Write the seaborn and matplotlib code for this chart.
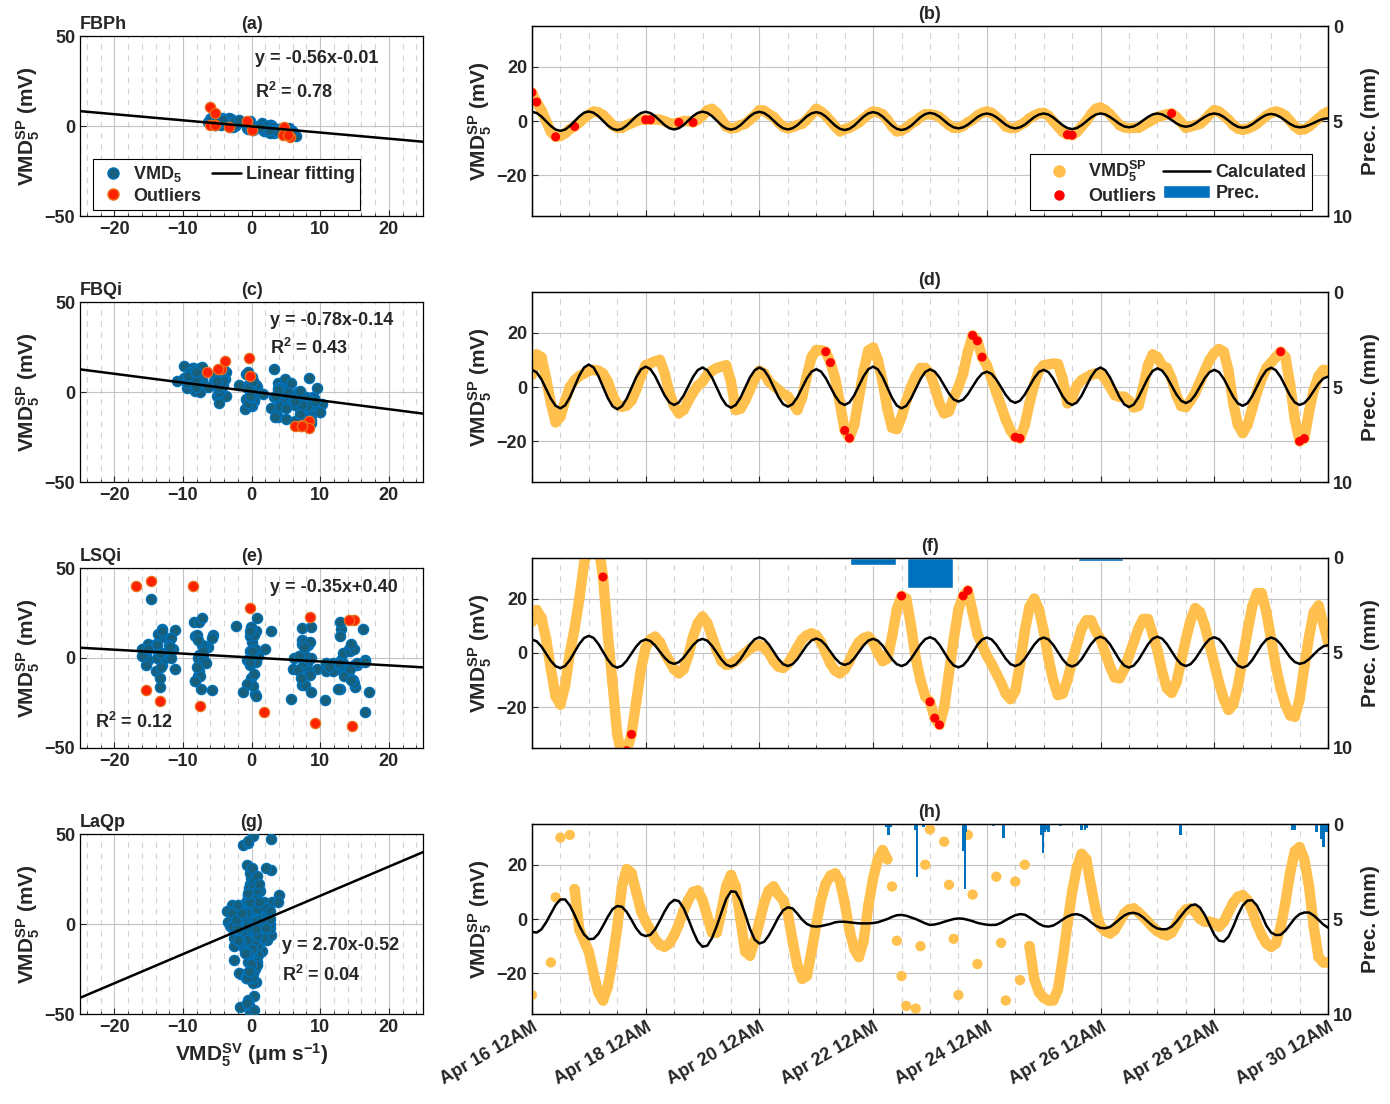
import numpy as np
import pandas as pd
import matplotlib
matplotlib.use('Agg')
import matplotlib.pyplot as plt
import matplotlib.dates as mdates
from matplotlib.lines import Line2D
from matplotlib.patches import Patch
from matplotlib.ticker import MultipleLocator
import seaborn as sns

# ---- data (2-hourly, Apr 16 00:00 -> Apr 30 00:00) ----
times = pd.date_range('2021-04-16 00:00', '2021-04-30 00:00', freq='2h')

sites = ['FBPh', 'FBQi', 'LSQi', 'LaQp']
fit_slope = [-0.56, -0.78, -0.35, 2.70]
fit_icept = [-0.01, -0.14, 0.40, -0.52]
fit_r2 = [0.78, 0.43, 0.12, 0.04]
# drawn fitting line, value at x=-25 and x=25
fit_line_ends = [(8.3, -8.7), (12.6, -12.0), (5.7, -5.2), (-41.0, 40.0)]

# VMD5 SV (um/s), one row per day
sv_fbph = [
    -6.1, -5.3, -3.0, 0.2, 3.3, 5.6, 6.4, 5.6, 3.2, 0.1, -3.1, -5.5,
    -6.3, -5.5, -3.3, -0.2, 2.9, 5.1, 5.9, 5.1, 2.9, -0.1, -3.1, -5.3,
    -6.1, -5.3, -3.2, -0.3, 2.6, 4.7, 5.5, 4.7, 2.6, -0.4, -3.3, -5.4,
    -6.2, -5.4, -3.3, -0.3, 2.7, 4.8, 5.6, 4.8, 2.7, -0.3, -3.2, -5.3,
    -6.1, -5.3, -3.2, -0.3, 2.6, 4.7, 5.5, 4.7, 2.7, -0.2, -3.1, -5.1,
    -5.9, -5.1, -3.0, 0.0, 3.0, 5.1, 5.9, 5.1, 3.0, 0.0, -3.0, -5.1,
    -5.9, -5.1, -3.0, 0.0, 3.0, 5.1, 5.9, 5.1, 3.1, 0.3, -2.6, -4.6,
    -5.4, -4.7, -2.9, -0.3, 2.3, 4.1, 4.8, 4.1, 2.4, -0.1, -2.6, -4.3,
    -5.0, -4.3, -2.6, -0.1, 2.4, 4.1, 4.8, 4.1, 2.4, -0.1, -2.6, -4.3,
    -5.0, -4.3, -2.4, 0.2, 2.7, 4.6, 5.3, 4.6, 2.7, 0.2, -2.4, -4.3,
    -5.0, -4.4, -2.7, -0.5, 1.8, 3.5, 4.1, 3.5, 1.8, -0.5, -2.7, -4.4,
    -5.0, -4.4, -2.8, -0.7, 1.5, 3.1, 3.7, 3.1, 1.5, -0.7, -2.8, -4.4,
    -5.0, -4.4, -2.7, -0.3, 2.1, 3.8, 4.4, 3.8, 2.1, -0.2, -2.4, -4.1,
    -4.7, -4.1, -2.5, -0.3, 1.9, 3.5, 4.1, 3.7, 2.6, 1.2, -0.3, -1.4,
    -1.8]
sv_fbqi = [
    -8.3, -7.1, -3.8, 0.8, 5.4, 8.7, 9.9, 8.5, 4.7, -0.5, -5.6, -9.4,
    -10.8, -9.4, -5.5, -0.3, 5.0, 8.9, 10.3, 8.9, 5.3, 0.3, -4.8, -8.5,
    -9.8, -8.6, -5.3, -0.8, 3.8, 7.1, 8.3, 7.1, 3.9, -0.6, -5.0, -8.2,
    -9.4, -8.1, -4.7, 0.1, 4.9, 8.3, 9.6, 8.3, 4.9, 0.1, -4.7, -8.1,
    -9.4, -8.2, -4.8, -0.2, 4.5, 7.9, 9.1, 7.9, 4.7, 0.3, -4.2, -7.4,
    -8.6, -7.5, -4.4, -0.2, 4.1, 7.2, 8.3, 7.1, 3.8, -0.8, -5.3, -8.6,
    -9.8, -8.5, -4.9, 0.1, 5.0, 8.6, 9.9, 8.7, 5.3, 0.7, -3.9, -7.3,
    -8.5, -7.5, -4.7, -0.9, 2.9, 5.7, 6.7, 5.8, 3.2, -0.4, -3.9, -6.5,
    -7.4, -6.4, -3.7, -0.1, 3.6, 6.3, 7.3, 6.3, 3.4, -0.5, -4.4, -7.3,
    -8.3, -7.2, -4.2, 0.0, 4.2, 7.2, 8.3, 7.1, 3.9, -0.6, -5.0, -8.2,
    -9.4, -8.1, -4.7, -0.1, 4.6, 8.0, 9.3, 8.1, 4.7, 0.2, -4.4, -7.8,
    -9.0, -7.9, -4.9, -0.8, 3.3, 6.3, 7.4, 6.3, 3.5, -0.5, -4.4, -7.2,
    -8.3, -7.2, -4.1, 0.2, 4.5, 7.6, 8.7, 7.5, 4.2, -0.3, -4.8, -8.1,
    -9.3, -8.1, -4.9, -0.5, 3.9, 7.1, 8.3, 7.4, 5.0, 1.6, -1.8, -4.2,
    -5.1]
sv_lsqi = [
    -13.1, -11.1, -5.6, 2.0, 9.6, 15.1, 17.1, 14.8, 8.6, 0.1, -8.4, -14.6,
    -16.9, -14.7, -8.5, -0.2, 8.2, 14.4, 16.6, 14.6, 9.2, 1.8, -5.7, -11.1,
    -13.1, -11.4, -6.7, -0.3, 6.2, 10.9, 12.6, 10.8, 6.0, -0.6, -7.1, -11.9,
    -13.7, -11.8, -6.4, 0.9, 8.1, 13.5, 15.4, 13.3, 7.7, 0.0, -7.7, -13.3,
    -15.4, -13.4, -7.8, -0.3, 7.3, 12.9, 14.9, 13.0, 7.7, 0.5, -6.8, -12.1,
    -14.0, -12.1, -7.1, -0.2, 6.8, 11.8, 13.7, 11.9, 6.9, 0.0, -6.9, -11.9,
    -13.7, -11.8, -6.6, 0.6, 7.8, 13.0, 14.9, 12.9, 7.3, -0.3, -7.8, -13.4,
    -15.4, -13.3, -7.5, 0.5, 8.4, 14.2, 16.3, 14.2, 8.5, 0.6, -7.3, -13.0,
    -15.1, -13.1, -7.6, -0.1, 7.4, 12.9, 14.9, 12.9, 7.4, -0.1, -7.6, -13.1,
    -15.1, -13.1, -7.5, 0.2, 7.8, 13.4, 15.4, 13.3, 7.6, -0.3, -8.2, -13.9,
    -16.0, -13.8, -7.9, 0.3, 8.5, 14.4, 16.6, 14.4, 8.5, 0.3, -7.9, -13.8,
    -16.0, -13.9, -8.3, -0.6, 7.2, 12.8, 14.9, 12.9, 7.3, -0.3, -7.8, -13.4,
    -15.4, -13.3, -7.4, 0.6, 8.6, 14.5, 16.6, 14.5, 8.7, 0.8, -7.2, -13.0,
    -15.1, -13.2, -8.2, -1.3, 5.7, 10.7, 12.6, 11.3, 7.7, 2.8, -2.2, -5.8,
    -7.1]
sv_laqp = [
    -1.55, -1.66, -1.21, -0.25, 0.93, 2.12, 2.86, 2.86, 2.04, 0.75, -0.73, -1.92,
    -2.55, -2.51, -1.84, -0.73, 0.49, 1.53, 1.97, 1.86, 1.16, 0.08, -1.07, -1.88,
    -2.14, -1.96, -1.21, -0.03, 1.23, 2.27, 2.79, 2.64, 1.67, 0.19, -1.47, -2.88,
    -3.59, -3.44, -2.40, -0.77, 1.12, 2.93, 3.97, 3.90, 2.71, 0.86, -1.14, -2.62,
    -3.14, -2.92, -2.03, -0.84, 0.41, 1.38, 1.79, 1.64, 0.93, 0.12, -0.47, -0.77,
    -0.84, -0.77, -0.62, -0.47, -0.25, -0.18, -0.18, -0.25, -0.33, -0.40, -0.40, -0.40,
    -0.36, -0.25, -0.03, 0.19, 0.49, 0.71, 0.75, 0.64, 0.41, 0.19, -0.10, -0.40,
    -0.62, -0.55, -0.40, -0.18, 0.01, 0.19, 0.27, 0.23, 0.08, -0.10, -0.33, -0.47,
    -0.59, -0.62, -0.59, -0.33, 0.04, 0.41, 0.71, 0.86, 0.79, 0.41, -0.03, -0.47,
    -0.77, -0.84, -0.70, -0.33, 0.12, 0.53, 0.79, 0.86, 0.67, 0.27, -0.25, -0.73,
    -1.03, -1.07, -0.88, -0.40, 0.16, 0.67, 0.97, 1.04, 0.86, 0.41, -0.18, -0.73,
    -1.10, -1.21, -1.18, -0.84, -0.18, 0.64, 1.45, 2.04, 2.19, 1.75, 0.75, -0.62,
    -1.96, -2.77, -2.88, -2.21, -0.84, 0.75, 2.04, 2.71, 2.75, 2.04, 0.75, -0.73,
    -1.66, -1.99, -1.96, -1.40, -0.55, 0.30, 0.86, 1.08, 1.08, 0.67, 0.08, -0.55,
    -0.99]

# VMD5 SP (mV), one row per day
sp_fbph = [
    10.5, 7.0, 4.0, 0.0, -4.0, -5.8, -5.5, -4.5, -3.0, -2.0, -0.5, 1.0,
    2.5, 3.5, 3.2, 2.2, 0.5, -1.5, -2.5, -2.5, -1.5, -0.8, 0.0, 0.5,
    0.5, 0.5, 0.6, 0.5, 0.0, -0.8, -1.0, -0.5, 0.0, 0.0, -0.5, 0.5,
    2.0, 4.0, 4.5, 3.0, 0.5, -2.0, -2.7, -2.5, -1.5, -1.0, 0.5, 2.0,
    4.0, 3.8, 2.5, 1.5, -0.5, -2.0, -2.7, -2.2, -1.5, -1.0, 0.5, 2.5,
    4.5, 3.5, 2.0, 0.0, -2.0, -3.8, -3.0, -2.5, -1.5, -0.5, 1.0, 2.5,
    3.5, 3.2, 2.5, 0.5, -2.0, -3.8, -3.5, -2.5, -1.0, 0.0, 1.5, 2.5,
    2.5, 2.2, 1.5, 0.0, -1.5, -2.5, -2.5, -1.8, -0.5, 0.5, 2.0, 3.0,
    3.5, 3.0, 1.5, 0.0, -2.0, -2.6, -2.5, -1.5, -0.5, 1.0, 2.0, 2.8,
    3.0, 2.0, 0.0, -2.0, -4.0, -5.0, -5.2, -4.0, -2.0, 0.0, 2.5, 4.5,
    5.0, 4.0, 2.5, 0.5, -1.5, -2.3, -2.6, -2.5, -2.5, -1.5, -0.5, 0.5,
    1.5, 2.0, 2.5, 2.8, 1.5, -0.5, -2.5, -2.0, -1.5, -1.0, 0.5, 2.5,
    4.0, 3.5, 2.0, 0.5, -1.5, -2.8, -3.2, -2.8, -2.0, -1.0, 0.5, 2.0,
    3.0, 3.5, 3.0, 2.0, 0.0, -2.0, -3.2, -3.0, -2.0, -0.5, 1.0, 2.5,
    3.4]
sp_fbqi = [
    4.5, 12.0, 11.0, 3.0, -6.0, -13.0, -11.0, -5.0, 0.0, 2.5, 4.0, 5.0,
    6.0, 6.3, 6.0, 5.0, 2.0, -3.0, -6.5, -7.3, -6.8, -5.0, -1.0, 4.0,
    8.0, 8.7, 9.5, 10.0, 5.0, -2.0, -7.0, -9.7, -8.5, -5.0, -2.0, 0.5,
    2.0, 4.5, 6.0, 7.0, 7.5, 8.0, 2.0, -8.5, -8.0, -5.0, -1.0, 3.0,
    6.0, 5.0, 2.0, 0.5, -1.0, -2.5, -3.5, -6.0, -8.5, -4.0, 4.0, 11.0,
    13.6, 13.5, 13.0, 9.0, 3.0, -6.0, -16.0, -18.8, -14.0, -4.0, 6.0, 13.5,
    14.5, 10.0, 2.0, -8.0, -15.0, -15.5, -11.0, -5.0, 0.0, 4.0, 7.0, 7.0,
    5.0, 0.0, -6.0, -9.7, -9.0, -4.0, 0.0, 5.0, 13.0, 19.0, 17.0, 11.0,
    8.0, 3.0, -2.0, -7.0, -12.0, -16.0, -18.5, -18.9, -14.0, -6.0, 1.0, 6.0,
    8.0, 8.3, 8.6, 8.5, 3.0, -6.0, -4.0, 0.5, 2.5, 3.5, 4.5, 5.0,
    5.0, 3.0, 0.0, -3.0, -3.6, -3.6, -5.0, -7.5, -7.0, 0.0, 8.0, 12.0,
    11.0, 8.0, 7.0, 3.0, -3.0, -7.0, -7.4, -5.0, -2.0, 2.0, 6.0, 10.0,
    12.5, 14.0, 13.0, 6.0, -6.0, -14.0, -17.0, -14.0, -8.0, -2.0, 3.0, 7.0,
    9.0, 11.0, 13.0, 11.0, 1.0, -12.0, -20.0, -19.0, -9.0, -1.0, 4.0, 6.3,
    6.0]
sp_lsqi = [
    11.5, 15.8, 13.0, 5.0, -6.0, -16.0, -19.0, -12.0, 0.0, 9.0, 20.0, 33.0,
    40.0, 43.0, 40.0, 28.0, 7.0, -11.0, -30.0, -38.0, -36.0, -30.0, -18.0, -6.0,
    2.0, 5.0, 6.0, 4.0, 0.0, -3.0, -6.0, -7.5, -6.0, -1.0, 6.0, 11.0,
    13.4, 11.0, 6.0, 1.0, -3.0, -4.4, -4.0, -3.0, -1.5, 0.0, 1.5, 2.5,
    2.9, 2.0, 0.0, -3.0, -5.0, -5.5, -4.0, -1.0, 2.0, 5.0, 6.5, 7.2,
    6.5, 4.0, 0.0, -4.0, -6.5, -7.5, -6.0, -3.0, 1.0, 4.0, 5.5, 6.0,
    4.0, 0.0, -3.0, -2.0, 6.0, 16.0, 21.0, 20.0, 10.0, -2.0, -10.0, -16.0,
    -18.0, -24.0, -26.5, -20.0, -7.5, 5.0, 16.0, 21.0, 23.0, 15.0, 7.0, 3.0,
    -1.0, -4.0, -7.5, -11.0, -15.0, -17.0, -14.0, -4.0, 8.0, 17.0, 20.0, 16.0,
    8.0, -2.0, -10.0, -15.5, -15.0, -10.0, -3.0, 3.0, 9.0, 12.0, 12.0, 8.0,
    5.0, 0.0, -5.0, -9.0, -9.3, -6.0, -1.0, 4.0, 9.0, 12.5, 12.5, 7.0,
    1.0, -7.0, -13.0, -14.7, -11.0, -3.0, 5.0, 12.0, 16.5, 15.0, 10.0, 3.0,
    -4.0, -11.0, -17.0, -21.0, -19.0, -12.0, -2.0, 8.0, 17.0, 22.0, 22.0, 15.0,
    5.0, -5.0, -13.0, -19.0, -23.0, -23.5, -17.0, -5.0, 6.0, 15.0, 17.5, 11.0,
    4.0]
sp_laqp = [
    -28.0, -46.0, 44.0, -49.0, -16.0, 8.0, 30.0, 47.0, 31.0, 11.0, -4.0, -8.0,
    -12.0, -20.0, -27.0, -30.0, -25.0, -15.0, -3.0, 12.0, 18.4, 17.0, 10.0, 3.0,
    -1.0, -4.0, -7.5, -9.5, -10.2, -9.0, -6.0, -2.0, 3.0, 7.0, 10.0, 10.5,
    7.0, 1.0, -5.0, -5.0, 3.0, 12.0, 16.2, 12.0, 0.0, -12.0, -13.5, -8.0,
    -1.0, 6.0, 10.5, 12.0, 9.0, 7.0, 2.0, -8.0, -17.0, -22.0, -21.0, -12.0,
    -2.0, 7.0, 13.0, 16.0, 16.8, 14.0, 6.0, -4.0, -11.0, -14.0, -8.0, 5.0,
    15.0, 22.0, 25.4, 22.0, 12.0, -8.0, -21.0, -32.0, -40.0, -33.0, -10.0, 20.0,
    33.0, 45.0, -45.0, 28.5, 12.6, -7.3, -28.0, 49.0, 31.0, 9.0, -16.6, -42.0,
    46.0, -44.0, 15.6, -8.8, -30.0, -48.0, 13.8, -22.5, 20.0, -10.0, -22.0, -27.0,
    -29.0, -30.0, -30.0, -26.0, -15.0, -2.0, 10.0, 19.0, 24.0, 22.0, 12.0, 3.0,
    -2.8, -4.5, -5.3, -4.0, -1.0, 2.0, 3.5, 3.9, 2.5, 0.8, -1.0, -3.0,
    -4.5, -5.5, -6.0, -5.0, -2.0, 1.5, 3.5, 3.9, 2.5, 0.0, -1.0, -1.0,
    -1.5, -2.8, -1.0, 2.5, 6.0, 8.2, 8.8, 7.0, 3.0, -2.0, -6.0, -9.0,
    -10.2, -9.0, -3.0, 6.0, 17.0, 25.0, 26.5, 22.0, 12.0, -3.0, -14.0, -16.0,
    -16.0]

# indices of the outlier samples
out_fbph = [0, 1, 5, 9, 24, 25, 31, 34, 113, 114, 135]
out_fbqi = [62, 63, 66, 67, 93, 94, 95, 102, 103, 158, 162, 163]
out_lsqi = [12, 13, 14, 15, 19, 20, 21, 78, 84, 85, 86, 91, 92]
out_laqp = []

# sample ranges that show as loose dots (no connecting band)
loose_laqp = [(0, 9), (75, 105)]

# precipitation
prec_lsqi_days = ['2021-04-22', '2021-04-23', '2021-04-26']
prec_lsqi_mm = [0.37, 1.6, 0.14]
prec_laqp_hours = [149.75, 150.25, 150.5, 151.25, 162.0, 162.5, 165.25, 182.0,
                   182.75, 183.25, 183.75, 194.75, 199.0, 215.0, 215.75, 216.5,
                   217.25, 218.0, 223.0, 232.0, 233.5, 234.0, 273.75, 321.0,
                   322.0, 331.25, 333.25, 334.0, 335.25]
prec_laqp_mm = [0.15, 0.15, 0.6, 0.15, 0.3, 2.8, 0.15, 1.4,
                3.4, 0.4, 0.05, 0.1, 0.75, 0.6, 1.55, 0.4,
                0.3, 0.4, 0.1, 0.3, 0.3, 0.2, 0.6, 0.3,
                0.3, 0.4, 0.8, 1.2, 0.4]

sv_all = [sv_fbph, sv_fbqi, sv_lsqi, sv_laqp]
sp_all = [sp_fbph, sp_fbqi, sp_lsqi, sp_laqp]
out_all = [out_fbph, out_fbqi, out_lsqi, out_laqp]
loose_all = [[], [], [], loose_laqp]

# ---- style ----
sns.set_style('ticks')
plt.rcParams['font.family'] = ['Liberation Sans', 'DejaVu Sans']
plt.rcParams['font.weight'] = 'bold'
plt.rcParams['axes.labelweight'] = 'bold'
plt.rcParams['axes.titleweight'] = 'bold'
plt.rcParams['mathtext.default'] = 'regular'
plt.rcParams['xtick.direction'] = 'in'
plt.rcParams['ytick.direction'] = 'in'

ORANGE = '#FFC04D'
BLUE_FACE = '#17607D'
BLUE_EDGE = '#0072BD'
RED_FACE = '#FF2200'
RED_EDGE = '#E8731E'
PREC = '#0072BD'
TXT = '#262626'

fig = plt.figure(figsize=(13.9, 11.04), dpi=100)

bottoms = [0.8043, 0.5634, 0.3225, 0.0815]
left_boxes = [[0.0576, b, 0.2468, 0.1630] for b in bottoms]
right_boxes = [[0.3827, b, 0.5727, 0.1721] for b in bottoms]
letters = [('(a)', '(b)'), ('(c)', '(d)'), ('(e)', '(f)'), ('(g)', '(h)')]
eq_pos = [((0.5, 37.8), (0.5, 19.0)), ((2.7, 40.0), (2.7, 24.3)),
          ((2.7, 38.9), (-22.8, -35.6)), ((4.4, -11.7), (4.4, -28.3))]

major_days = pd.date_range('2021-04-16', '2021-04-30', freq='2D')
minor_days = pd.date_range('2021-04-16', '2021-04-30', freq='12h')


def style_axes(ax):
    for s in ax.spines.values():
        s.set_color('k')
        s.set_linewidth(0.9)
    ax.tick_params(labelsize=13, colors=TXT, length=4, width=0.8)
    ax.tick_params(which='minor', length=2.5, width=0.6)


for i in range(4):
    sv = np.array(sv_all[i])
    sp = np.array(sp_all[i])
    is_out = np.zeros(len(sp), dtype=bool)
    is_out[out_all[i]] = True

    # ---------- left: SP vs SV scatter ----------
    ax = fig.add_axes(left_boxes[i])
    ax.set_xlim(-25, 25)
    ax.set_ylim(-50, 50)
    ax.set_xticks([-20, -10, 0, 10, 20])
    ax.set_yticks([-50, 0, 50])
    ax.xaxis.set_minor_locator(MultipleLocator(2))
    ax.grid(True, which='major', color='#c4c4c4', lw=0.8)
    ax.grid(True, which='minor', axis='x', color='#d2d2d2', lw=0.8, ls=(0, (5, 5)))
    ax.set_axisbelow(True)
    sns.scatterplot(x=sv[~is_out], y=sp[~is_out], ax=ax, s=55, color=BLUE_FACE,
                    edgecolor=BLUE_EDGE, linewidth=0.9, zorder=3)
    if is_out.any():
        sns.scatterplot(x=sv[is_out], y=sp[is_out], ax=ax, s=55, color=RED_FACE,
                        edgecolor=RED_EDGE, linewidth=0.9, zorder=4)
    sns.lineplot(x=[-25, 25], y=list(fit_line_ends[i]), ax=ax, color='k', lw=1.8, zorder=5)
    (ex, ey), (rx, ry) = eq_pos[i]
    ax.text(ex, ey, f'y = {fit_slope[i]:.2f}x{fit_icept[i]:+.2f}', fontsize=13,
            va='center', ha='left', zorder=6)
    ax.text(rx, ry, f'R$^2$ = {fit_r2[i]:.2f}', fontsize=13, va='center', ha='left', zorder=6)
    ax.set_title(letters[i][0], fontsize=13, pad=5)
    ax.set_title(sites[i], loc='left', fontsize=13, pad=5)
    ax.set_ylabel('VMD$_5^{SP}$ (mV)', fontsize=15, labelpad=2)
    style_axes(ax)
    if i == 3:
        ax.set_xlabel('VMD$_5^{SV}$ (μm s$^{-1}$)', fontsize=15, labelpad=4)
    if i == 0:
        hl = [Line2D([], [], marker='o', ls='none', markersize=8, markerfacecolor=BLUE_FACE,
                     markeredgecolor=BLUE_EDGE, label='VMD$_5$'),
              Line2D([], [], marker='o', ls='none', markersize=8, markerfacecolor=RED_FACE,
                     markeredgecolor=RED_EDGE, label='Outliers'),
              Line2D([], [], color='k', lw=1.8, label='Linear fitting')]
        leg = ax.legend(handles=hl, ncol=2, loc='lower left', bbox_to_anchor=(0.038, 0.033),
                        fontsize=13, frameon=True, fancybox=False, edgecolor='k',
                        framealpha=1, handlelength=1.6, handletextpad=0.3,
                        columnspacing=0.6, borderpad=0.3, labelspacing=0.2, borderaxespad=0)
        leg.get_frame().set_linewidth(0.8)
        leg.set_zorder(10)

    # ---------- right: time series ----------
    ax = fig.add_axes(right_boxes[i])
    ax.set_xlim(times[0], times[-1])
    ax.set_ylim(-35, 35)
    ax.set_yticks([-20, 0, 20])
    ax.set_xticks(major_days)
    ax.set_xticks(minor_days, minor=True)
    ax.xaxis.set_major_formatter(mdates.DateFormatter('%b %d %I%p'))
    ax.grid(True, which='major', color='#c4c4c4', lw=0.8)
    ax.grid(True, which='minor', axis='x', color='#d2d2d2', lw=0.8, ls=(0, (5, 5)))
    ax.set_axisbelow(True)

    band = sp.astype(float).copy()
    for a, b in loose_all[i]:
        band[a + 1:b] = np.nan
        if a == 0:
            band[0] = np.nan
    ax.plot(times, band, color=ORANGE, lw=7.5, solid_capstyle='round', zorder=2)
    sns.scatterplot(x=times, y=sp, ax=ax, s=55, color=ORANGE, edgecolor='none', zorder=3)
    if is_out.any():
        sns.scatterplot(x=times[is_out], y=sp[is_out], ax=ax, s=42, color='#FF0000',
                        edgecolor='none', zorder=4)
    calc = fit_slope[i] * sv + fit_icept[i]
    sns.lineplot(x=times, y=calc, ax=ax, color='k', lw=1.8, zorder=5)
    ax.set_xlabel('')
    ax.set_ylabel('VMD$_5^{SP}$ (mV)', fontsize=15, labelpad=2)
    ax.set_title(letters[i][1], fontsize=13, pad=5)
    style_axes(ax)
    if i == 3:
        plt.setp(ax.get_xticklabels(), rotation=30, ha='right', rotation_mode='anchor')
    else:
        ax.tick_params(labelbottom=False)

    ax2 = ax.twinx()
    ax2.set_ylim(10, 0)
    ax2.set_yticks([0, 5, 10])
    ax2.set_ylabel('Prec. (mm)', fontsize=15, labelpad=6)
    if i == 2:
        ax2.bar(pd.to_datetime(prec_lsqi_days), prec_lsqi_mm, width=0.8, color=PREC)
    if i == 3:
        ph = times[0] + pd.to_timedelta(prec_laqp_hours, unit='h')
        ax2.bar(ph, prec_laqp_mm, width=1.1 / 24, color=PREC, linewidth=0)
    style_axes(ax2)
    ax2.set_xlim(times[0], times[-1])
    if i == 0:
        hr = [Line2D([], [], marker='o', ls='none', markersize=8, color=ORANGE,
                     label='VMD$_5^{SP}$'),
              Line2D([], [], marker='o', ls='none', markersize=6.5, color='#FF0000',
                     label='Outliers'),
              Line2D([], [], color='k', lw=1.8, label='Calculated'),
              Patch(facecolor=PREC, label='Prec.')]
        leg = ax2.legend(handles=hr, ncol=2, loc='lower right', bbox_to_anchor=(0.98, 0.03),
                         fontsize=13, frameon=True, fancybox=False, edgecolor='k',
                         framealpha=1, handlelength=2.6, handletextpad=0.3,
                         columnspacing=0.4, borderpad=0.3, labelspacing=0.2, borderaxespad=0)
        leg.get_frame().set_linewidth(0.8)

fig.savefig('out.png', dpi=100)
